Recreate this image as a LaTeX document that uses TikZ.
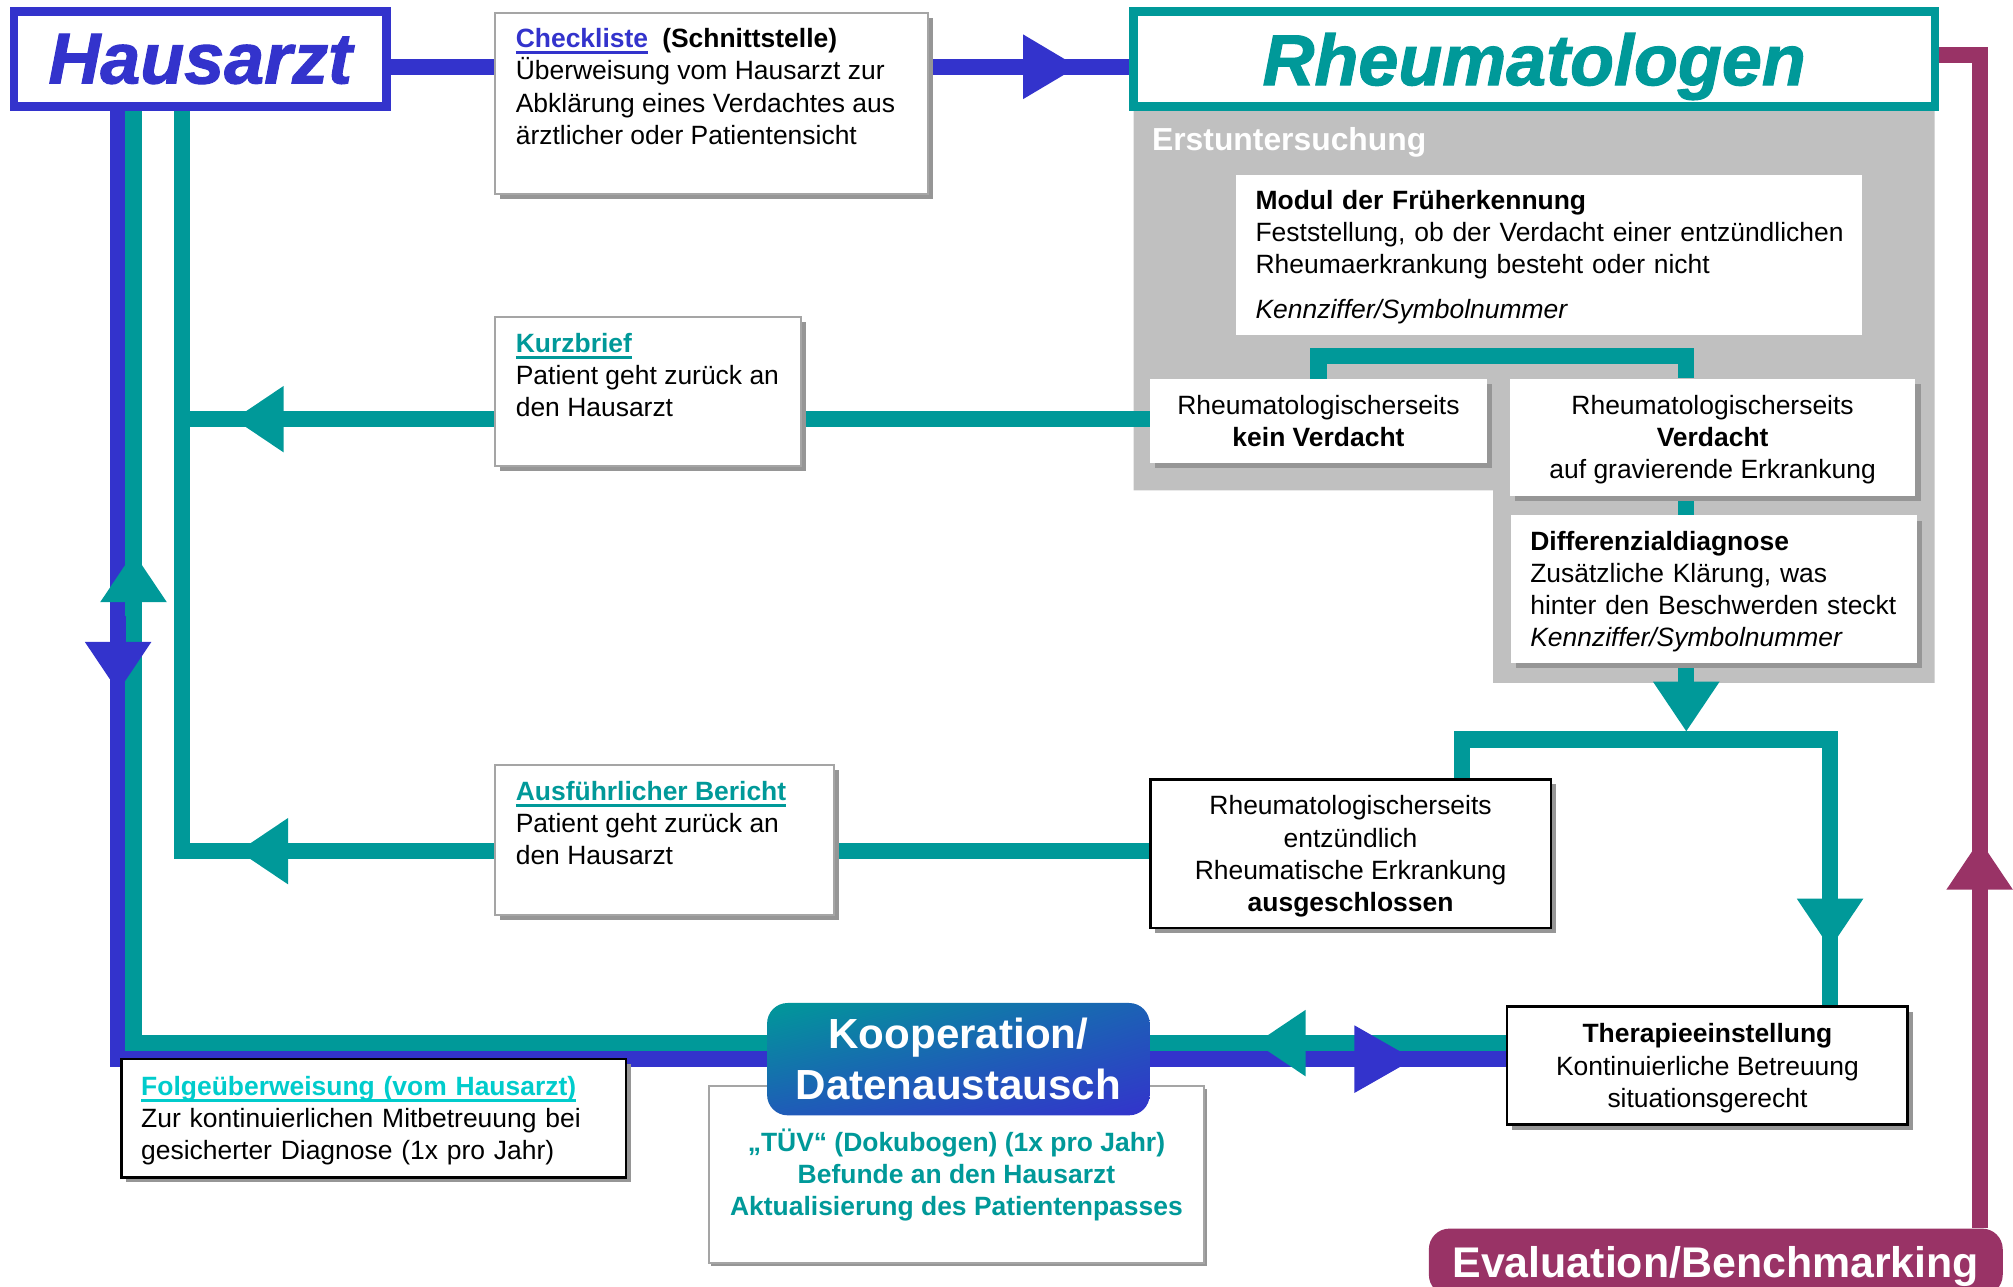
\documentclass[tikz,border=0pt]{standalone}
\usepackage{fontspec}
\setmainfont{Liberation Sans}
\usetikzlibrary{arrows.meta,shadows,backgrounds,shadings}
\definecolor{cBlue}{RGB}{51,51,204}
\definecolor{cTeal}{RGB}{0,153,153}
\definecolor{cMag}{RGB}{153,51,102}
\definecolor{cCyan}{RGB}{0,204,204}
\definecolor{cGreyReg}{RGB}{192,192,192}
\definecolor{cShadow}{RGB}{150,150,150}
\definecolor{cBorder}{RGB}{165,165,165}
\newsavebox\ulbox
\newcommand\thickul[1]{\sbox\ulbox{#1}\rlap{\rule[-2.5pt]{\wd\ulbox}{1.1pt}}\usebox\ulbox}
\newcommand\fl{\rule{0pt}{9.5pt}}
\tikzset{
  bodytext/.style={font=\fontsize{10.3}{12.5}\selectfont},
  conn/.style={line width=6.25pt},
  tealc/.style={conn, draw=cTeal},
  bluec/.style={conn, draw=cBlue},
  magc/.style={conn, draw=cMag},
  headtip/.style={-{Triangle[length=19.5pt,width=24.5pt]}},
  shad/.style={general shadow={fill=cShadow, shadow xshift=2pt, shadow yshift=-2pt}},
  greybox/.style={draw=cBorder, line width=0.8pt, fill=white, shad, bodytext, inner xsep=8pt, inner ysep=5pt, anchor=north west},
  blackbox/.style={draw=black, line width=1pt, fill=white, shad, bodytext, inner sep=0pt},
  plainbox/.style={fill=white, bodytext, inner sep=0pt},
  titlebox/.style={fill=white, line width=3.25pt, inner sep=0pt, font=\fontsize{28}{30}\selectfont\bfseries\itshape\addfontfeatures{FakeBold=1.5}, minimum height=37pt},
}
\begin{document}
\begin{tikzpicture}[x=0.5pt,y=-0.5pt]
\useasboundingbox (0,0) rectangle (1568,1002);
\clip (0,0) rectangle (1568,1002);

% ---------- row / column coordinates ----------
\coordinate (rTop) at (0,52);
\coordinate (rMag) at (0,42.5);
\coordinate (rKurz) at (0,326.5);
\coordinate (rAusf) at (0,663);
\coordinate (rTeal) at (0,812.5);
\coordinate (rBlue) at (0,825);
\coordinate (rBr) at (0,277);
\coordinate (rJ) at (0,576);
\coordinate (xB) at (92,0);
\coordinate (xT) at (104,0);
\coordinate (xT2) at (142,0);
\coordinate (xM) at (1542,0);
\coordinate (xJ) at (1313.5,0);
\coordinate (xL) at (1139,0);
\coordinate (xR) at (1425.5,0);
% arrow tips and arrow starts
\coordinate (tTop) at (840,52);
\coordinate (tKurz) at (182,326.5);
\coordinate (tAusf) at (185.5,663);
\coordinate (sUp) at (104,490);
\coordinate (tUp) at (104,430);
\coordinate (sDown) at (92,480);
\coordinate (tDown) at (92,539);
\coordinate (tDiff) at (1313.5,570);
\coordinate (tR) at (1425.5,739);
\coordinate (tMag) at (1542,654);
\coordinate (sKT) at (1040,812.5);
\coordinate (tKT) at (978,812.5);
\coordinate (sKB) at (1035,825);
\coordinate (tKB) at (1102,825);

% ---------- nodes ----------
\node[titlebox, draw=cBlue, text=cBlue, minimum width=145pt] (haus) at (156,46) {Hausarzt};
\node[titlebox, draw=cTeal, text=cTeal, minimum width=312pt, text depth=0pt] (rheum) at (1195,46) {Rheumatologen};

\node[greybox] (check) at (385,9) {\parbox[t][60.5pt][t]{152.5pt}{\raggedright\strut\textcolor{cBlue}{\textbf{\thickul{Checkliste}}}\hspace{5.5pt}\textbf{(Schnittstelle)}\\Überweisung vom Hausarzt zur\\Abklärung~eines~Verdachtes~aus\\ärztlicher oder Patientensicht}};

\node[greybox] (kurz) at (385,246) {\parbox[t][48pt][t]{103pt}{\raggedright\strut\textcolor{cTeal}{\textbf{\thickul{Kurzbrief}}}\\Patient~geht~zurück~an\\den Hausarzt}};

\node[greybox] (ausf) at (385,595) {\parbox[t][48.5pt][t]{116pt}{\raggedright\strut\textcolor{cTeal}{\textbf{\thickul{Ausführlicher~Bericht}}}\\Patient~geht~zurück~an\\den Hausarzt}};

\node[anchor=base west, inner sep=0pt, text=white, font=\fontsize{12.4}{14}\selectfont\bfseries] (erst) at (897,117.5) {Erstuntersuchung};

\node[plainbox, text width=228.5pt, inner xsep=7.5pt, minimum height=62.5pt, align=left] (modul) at (1206.5,198.5) {\fl\textbf{Modul der Früherkennung}\\\mbox{Feststellung, ob der Verdacht einer entzündlichen}\\Rheumaerkrankung besteht oder nicht\\[5pt]\textit{Kennziffer/Symbolnummer}};

\node[plainbox, shad, minimum width=131pt, minimum height=32.75pt, align=center] (kein) at (1027,328) {Rheumatologischerseits\\\textbf{kein Verdacht}};

\node[plainbox, shad, minimum width=158pt, minimum height=45.5pt, align=center] (verd) at (1334,340.5) {\fl Rheumatologischerseits\\\textbf{Verdacht}\\auf gravierende Erkrankung};

\node[plainbox, shad, text width=143pt, inner xsep=7.5pt, minimum height=57.5pt, align=left] (diff) at (1335,459) {\fl\textbf{Differenzialdiagnose}\\Zusätzliche Klärung, was\\\mbox{hinter den Beschwerden steckt}\\\textit{Kennziffer/Symbolnummer}};

\node[blackbox, minimum width=156pt, minimum height=58pt, align=center] (ausg) at (1052,665) {\fl Rheumatologischerseits\\entzündlich\\Rheumatische Erkrankung\\\textbf{ausgeschlossen}};

\node[blackbox, minimum width=156pt, minimum height=46pt, align=center] (ther) at (1330,830) {\fl\textbf{Therapieeinstellung}\\Kontinuierliche Betreuung\\situationsgerecht};

\node[blackbox, text width=181pt, inner xsep=7.75pt, minimum height=46pt, align=left] (folge) at (291,871) {\fl\textcolor{cCyan}{\textbf{\thickul{Folgeüberweisung~(vom~Hausarzt)}}}\\\mbox{Zur kontinuierlichen Mitbetreuung bei}\\gesicherter Diagnose (1x pro Jahr)};

\node[draw=cBorder, line width=0.8pt, fill=white, general shadow={fill=cShadow, shadow xshift=1pt, shadow yshift=-1pt}, minimum width=193pt, minimum height=68.75pt, inner sep=0pt, align=center, text=cTeal, font=\fontsize{10.3}{12.5}\selectfont\bfseries] (tuev) at (745,915) {„TÜV“ (Dokubogen) (1x pro Jahr)\\Befunde an den Hausarzt\\Aktualisierung des Patientenpasses};

\node[rounded corners=8pt, upper left=cTeal, upper right=cTeal!45!cBlue, lower left=cTeal!40!cBlue, lower right=cBlue, minimum width=149pt, minimum height=43.75pt, inner sep=0pt, align=center, text=white, font=\fontsize{16.4}{20}\selectfont\bfseries] (koop) at (746.5,825) {Kooperation/\\Datenaustausch};

\node[fill=cMag, rounded corners=8pt, minimum width=223.5pt, minimum height=26pt, inner sep=0pt, text depth=0pt, text=white, font=\fontsize{16.7}{20}\selectfont\bfseries] (eval) at (1336.5,983) {Evaluation/Benchmarking};

% ---------- background: region and connectors ----------
\begin{pgfonlayer}{background}
\fill[cGreyReg] (883,84) -- (1507,84) -- (1507,532) -- (1163,532) -- (1163,382) -- (883,382) -- cycle;

\draw[bluec] (haus.east |- rTop) -- (check.west |- rTop);
\draw[bluec] (check.east |- rTop) -- (rheum.west |- rTop);
\draw[bluec, -{Triangle[length=21.5pt,width=23.5pt]}] (check.east |- rTop) -- (tTop);

\draw[bluec] (haus.south -| xB) -- (xB |- rBlue) -- (ther.west |- rBlue);
\draw[tealc] (haus.south -| xT) -- (xT |- rTeal) -- (ther.west |- rTeal);
\draw[tealc] (haus.south -| xT2) -- (xT2 |- rAusf) -- (ausf.west |- rAusf);
\draw[tealc] (kurz.west |- rKurz) -- (xT2 |- rKurz);
\draw[tealc] (kein.west |- rKurz) -- (kurz.east |- rKurz);
\draw[tealc] (ausg.west |- rAusf) -- (ausf.east |- rAusf);

\draw[tealc] (kein.north) -- (kein.north |- rBr) -- (xJ |- rBr) -- (verd.north -| xJ);
\draw[tealc] (verd.south -| xJ) -- (diff.north -| xJ);
\draw[tealc, headtip] (diff.south -| xJ) -- (tDiff);
\draw[tealc] (ausg.north -| xL) -- (xL |- rJ) -- (xR |- rJ) -- (ther.north -| xR);
\draw[tealc, headtip] (xR |- rJ) -- (tR);

\draw[magc] (rheum.east |- rMag) -- (xM |- rMag) -- (eval.north -| xM);
\draw[magc, headtip] (eval.north -| xM) -- (tMag);

\draw[tealc, headtip] (kurz.west |- rKurz) -- (tKurz);
\draw[tealc, headtip] (ausf.west |- rAusf) -- (tAusf);
\draw[tealc, headtip] (sUp) -- (tUp);
\draw[bluec, headtip] (sDown) -- (tDown);
\draw[tealc, headtip] (sKT) -- (tKT);
\draw[bluec, -{Triangle[length=23.5pt,width=24.5pt]}] (sKB) -- (tKB);
\end{pgfonlayer}
\end{tikzpicture}
\end{document}
